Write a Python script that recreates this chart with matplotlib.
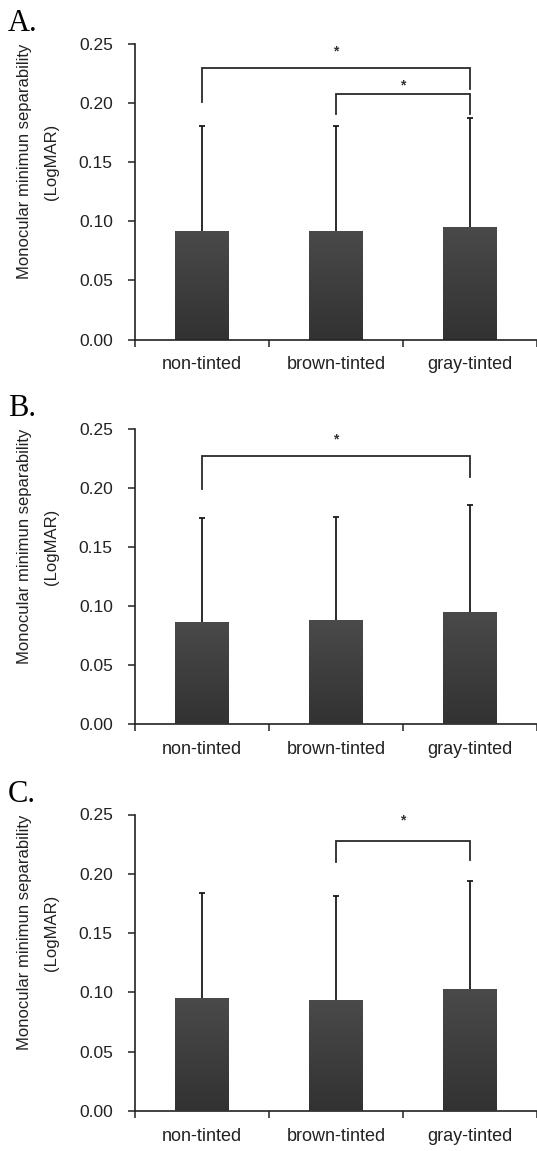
import numpy as np
import matplotlib
matplotlib.use("Agg")
import matplotlib.pyplot as plt
from matplotlib.colors import LinearSegmentedColormap

plt.rcParams['font.family'] = ['Liberation Sans', 'DejaVu Sans']

categories = ['non-tinted', 'brown-tinted', 'gray-tinted']
panel_labels = ['A.', 'B.', 'C.']
y_ticks = [0.00, 0.05, 0.10, 0.15, 0.20, 0.25]

means_a = [0.092, 0.092, 0.095]
sd_a = [0.089, 0.089, 0.092]
means_b = [0.087, 0.088, 0.095]
sd_b = [0.088, 0.088, 0.091]
means_c = [0.095, 0.094, 0.103]
sd_c = [0.089, 0.087, 0.091]

# brackets: (left idx, right idx, top y, left leg bottom, right leg bottom, star y)
brackets_a = [(0, 2, 0.2295, 0.201, 0.2117, 0.244),
              (1, 2, 0.2074, 0.1905, 0.1905, 0.2153)]
brackets_b = [(0, 2, 0.227, 0.199, 0.2095, 0.2417)]
brackets_c = [(1, 2, 0.2273, 0.2098, 0.2119, 0.245)]

panels = [(means_a, sd_a, brackets_a),
          (means_b, sd_b, brackets_b),
          (means_c, sd_c, brackets_c)]

W, H = 537, 1151
fig = plt.figure(figsize=(W / 100, H / 100), dpi=100)

# axes boxes in pixels: (top, bottom)
boxes = [(44, 339.5), (429.3, 724.3), (814.5, 1111)]
left_px, right_px = 135, 537

cmap = LinearSegmentedColormap.from_list('g', ['#323232', '#4a4a4a'])
grad = np.linspace(0, 1, 256).reshape(-1, 1)

for k, ((means, sds, brs), (top, bot)) in enumerate(zip(panels, boxes)):
    ax = fig.add_axes([left_px / W, 1 - bot / H, (right_px - left_px) / W, (bot - top) / H])
    x = np.arange(len(categories))
    bars = ax.bar(x, means, width=0.4, color='#3e3e3e', zorder=2)
    eb = ax.errorbar(x, means, yerr=[np.zeros(len(sds)), sds], fmt='none',
                     ecolor='#1a1a1a', elinewidth=1.3, capsize=2.5, capthick=1.3, zorder=1)
    for cl in eb[1]:
        if np.allclose(cl.get_ydata(), means):
            cl.set_visible(False)
    for b in bars:
        x0, y0 = b.get_x(), b.get_y()
        im = ax.imshow(grad, extent=[x0, x0 + b.get_width(), y0, y0 + b.get_height()],
                       origin='lower', cmap=cmap, aspect='auto', zorder=3)
        im.set_clip_path(b)
    for (i, j, yt, yl, yr, ys) in brs:
        ax.plot([i, i, j, j], [yl, yt, yt, yr], color='#2a2a2a', lw=1.3,
                solid_joinstyle='miter', clip_on=False, zorder=4)
        ax.text((i + j) / 2, ys, '*', ha='center', va='center', fontsize=10,
                fontweight='bold', color='#333333')
    ax.set_xlim(-0.5, 2.5)
    ax.set_ylim(0, 0.25)
    ax.set_yticks(y_ticks)
    ax.set_yticklabels([f'{v:.2f}' for v in y_ticks], fontsize=12.5, color='#222222')
    ax.set_xticks([-0.5, 0.5, 1.5, 2.5])
    ax.set_xticklabels([])
    ax.set_xticks(x, minor=True)
    ax.set_xticklabels(categories, minor=True, fontsize=13, color='#222222')
    ax.tick_params(axis='x', which='minor', length=0, pad=12)
    ax.tick_params(axis='x', which='major', length=5, width=1.1, direction='out', color='#222222')
    ax.tick_params(axis='y', length=5, width=1.1, direction='out', pad=11, color='#222222')
    for s in ['top', 'right']:
        ax.spines[s].set_visible(False)
    for s in ['left', 'bottom']:
        ax.spines[s].set_linewidth(1.2)
        ax.spines[s].set_color('#222222')
    # y label
    cy = (top + bot) / 2 - 30
    fig.text(38 / W, 1 - cy / H, 'Monocular minimun separability\n(LogMAR)', rotation=90,
             ha='center', va='center', multialignment='center', fontsize=12,
             linespacing=2.0, color='#222222')
    # panel letter
    fig.text(8 / W, 1 - (top - 13) / H, panel_labels[k], ha='left', va='baseline',
             fontsize=22, family='Liberation Serif', color='black')

fig.savefig('out.png', dpi=100)
